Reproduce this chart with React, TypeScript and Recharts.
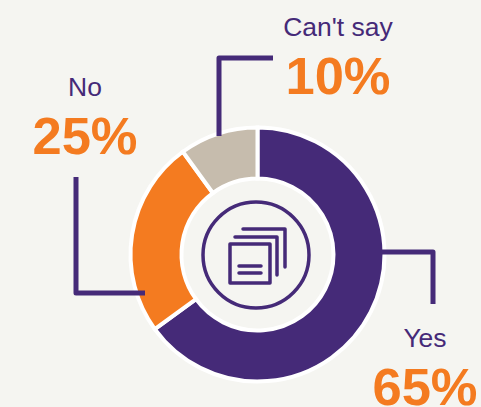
import { PieChart, Pie, Cell } from 'recharts';

const categories = ['Yes', 'No', "Can't say"];
const shares = [65, 25, 10];
const sliceColors = ['#452A78', '#F47B20', '#C6BCAD'];

const data = categories.map((name, i) => ({ name, value: shares[i] }));

const PURPLE = '#452A78';
const ORANGE = '#F47B20';
const font = '"Liberation Sans", Arial, sans-serif';

// where each label sits, same order as categories
const labelSpots = [
  { x: 425, nameY: 347, pctY: 405 },
  { x: 85, nameY: 96, pctY: 154 },
  { x: 338, nameY: 36, pctY: 94 },
];

const leaders = [
  'M382 252 H433 V304',
  'M76 177 V293 H145',
  'M273 58 H219 V136',
];

export default function App() {
  return (
    <div style={{ position: 'absolute', left: 0, top: 0, width: 481, height: 407, background: '#F5F5F1', overflow: 'hidden' }}>
      <PieChart width={481} height={407} margin={{ top: 0, right: 0, bottom: 0, left: 0 }}>
        <Pie
          data={data}
          dataKey="value"
          cx={257.5}
          cy={254.5}
          innerRadius={76}
          outerRadius={127}
          startAngle={90}
          endAngle={-270}
          stroke="#FFFFFF"
          strokeWidth={4}
          isAnimationActive={false}
        >
          {data.map((d, i) => (
            <Cell key={d.name} fill={sliceColors[i]} />
          ))}
        </Pie>
      </PieChart>
      <svg width={481} height={407} style={{ position: 'absolute', left: 0, top: 0 }}>
        {leaders.map((d) => (
          <path key={d} d={d} fill="none" stroke={PURPLE} strokeWidth={5} strokeLinejoin="round" />
        ))}
        {/* centre icon */}
        <g fill="none" stroke={PURPLE} strokeLinecap="round" strokeLinejoin="round" strokeWidth={3.5}>
          <circle cx={256} cy={255} r={53} />
          <rect x={230} y={244} width={40} height={39} />
          <path d="M235 237 H277 V275" />
          <path d="M243 229 H285 V267" />
          <path d="M239 266 H261 M239 273 H261" />
        </g>
        {categories.map((name, i) => (
          <g key={name} textAnchor="middle" fontFamily={font}>
            <text x={labelSpots[i].x} y={labelSpots[i].nameY} fontSize={26.5} fill={PURPLE}>
              {name}
            </text>
            <text x={labelSpots[i].x} y={labelSpots[i].pctY} fontSize={52.5} fontWeight="bold" fill={ORANGE}>
              {shares[i]}%
            </text>
          </g>
        ))}
      </svg>
    </div>
  );
}
